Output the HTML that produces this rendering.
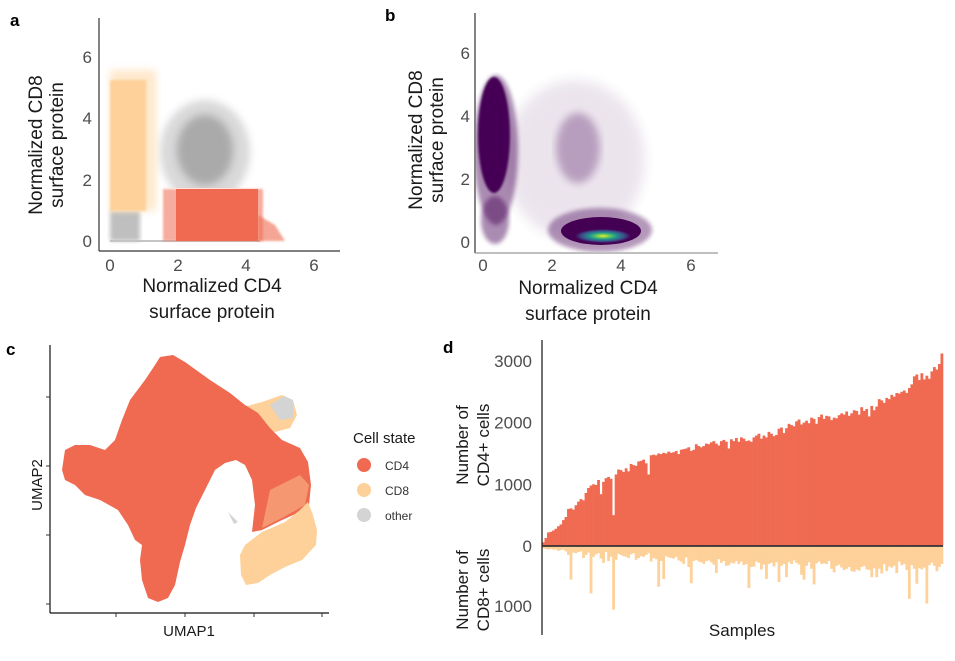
<!DOCTYPE html>
<html><head><meta charset="utf-8">
<style>
body{margin:0;background:#fff;width:955px;height:661px;overflow:hidden;font-family:"Liberation Sans",Arial,sans-serif}
svg{position:absolute;left:0;top:0}
.tk{font-size:17px;fill:#4d4d4d}
.ti{font-size:19px;fill:#1a1a1a}
.pl{font-size:17px;font-weight:bold;fill:#000}
</style></head><body>
<svg width="955" height="661" viewBox="0 0 955 661">
<defs>
<filter id="b1"><feGaussianBlur stdDeviation="1"/></filter>
<filter id="b2"><feGaussianBlur stdDeviation="2"/></filter>
<filter id="b4"><feGaussianBlur stdDeviation="4"/></filter>
<filter id="b6"><feGaussianBlur stdDeviation="6"/></filter>
<radialGradient id="vir" cx="0.5" cy="0.5" r="0.5">
<stop offset="0" stop-color="#fde725"/><stop offset="0.25" stop-color="#5ec962"/><stop offset="0.5" stop-color="#21918c"/><stop offset="0.75" stop-color="#3b528b"/><stop offset="1" stop-color="#440154"/>
</radialGradient>
<clipPath id="clipA"><rect x="100" y="18" width="240" height="232"/></clipPath>
<clipPath id="clipGray"><rect x="100" y="18" width="240" height="170"/></clipPath>
<clipPath id="clipB"><rect x="476" y="13" width="240" height="239"/></clipPath>
</defs>

<!-- Panel a -->
<g>
<text class="pl" x="10" y="26">a</text>
<g clip-path="url(#clipA)">
<rect x="110" y="211" width="30" height="30" fill="#aaa" opacity="0.75" filter="url(#b2)"/>
<rect x="110" y="240" width="150" height="2" fill="#c4c4c4"/>
<g clip-path="url(#clipGray)">
<ellipse cx="205" cy="152" rx="45" ry="52" fill="#aaa" opacity="0.45" filter="url(#b4)"/>
<ellipse cx="205" cy="150" rx="28" ry="35" fill="#a6a6a6" opacity="0.9" filter="url(#b4)"/>
</g>
<rect x="110" y="70" width="46" height="141" fill="#fdd199" opacity="0.5" filter="url(#b4)"/>
<rect x="110" y="80" width="36" height="131" fill="#fdd199" filter="url(#b1)"/>
<rect x="163" y="189" width="100" height="52" fill="#ef6a50" opacity="0.55" filter="url(#b1)"/>
<rect x="176" y="189" width="82" height="52" fill="#ef6a50"/>
<path d="M258 215 L275 225 L285 241 L258 241 Z" fill="#ef6a50" opacity="0.6" filter="url(#b1)"/>
</g>
<line x1="99" y1="18" x2="99" y2="251" stroke="#333" stroke-width="1.2"/>
<line x1="99" y1="251" x2="340" y2="251" stroke="#333" stroke-width="1.2"/>
<g>
<text class="tk" x="110" y="271" text-anchor="middle">0</text><text class="tk" x="178" y="271" text-anchor="middle">2</text>
<text class="tk" x="246" y="271" text-anchor="middle">4</text><text class="tk" x="314" y="271" text-anchor="middle">6</text>
</g>
<g>
<text class="tk" x="92" y="247" text-anchor="end">0</text><text class="tk" x="92" y="186" text-anchor="end">2</text>
<text class="tk" x="92" y="124" text-anchor="end">4</text><text class="tk" x="92" y="63" text-anchor="end">6</text>
</g>
<text class="ti" x="212" y="292" text-anchor="middle">Normalized CD4</text>
<text class="ti" x="212" y="318" text-anchor="middle">surface protein</text>
<g transform="translate(42,145) rotate(-90)">
<text class="ti" x="0" y="0" text-anchor="middle">Normalized CD8</text>
<text class="ti" x="0" y="21" text-anchor="middle">surface protein</text></g>
</g>

<!-- Panel b -->
<g>
<text class="pl" x="385" y="21">b</text>
<g clip-path="url(#clipB)">
<ellipse cx="575" cy="160" rx="70" ry="80" fill="#440154" opacity="0.1" filter="url(#b6)"/>
<ellipse cx="578" cy="148" rx="22" ry="35" fill="#440154" opacity="0.3" filter="url(#b4)"/>
<ellipse cx="495" cy="220" rx="14" ry="24" fill="#440154" opacity="0.45" filter="url(#b2)"/>
<ellipse cx="496" cy="150" rx="22" ry="75" fill="#440154" opacity="0.45" filter="url(#b2)"/>
<ellipse cx="494" cy="135" rx="16" ry="58" fill="#440154" filter="url(#b1)"/>
<ellipse cx="600" cy="230" rx="52" ry="22" fill="#440154" opacity="0.4" filter="url(#b2)"/>
<ellipse cx="601" cy="231" rx="40" ry="14" fill="#440154"/>
<ellipse cx="603" cy="236" rx="28" ry="7" fill="url(#vir)"/>
</g>
<line x1="475" y1="13" x2="475" y2="253" stroke="#333" stroke-width="1.2"/>
<line x1="475" y1="253" x2="718" y2="253" stroke="#999" stroke-width="1.2"/>
<g>
<text class="tk" x="483" y="271" text-anchor="middle">0</text><text class="tk" x="552" y="271" text-anchor="middle">2</text>
<text class="tk" x="621" y="271" text-anchor="middle">4</text><text class="tk" x="691" y="271" text-anchor="middle">6</text>
</g>
<g>
<text class="tk" x="470" y="248" text-anchor="end">0</text><text class="tk" x="470" y="185" text-anchor="end">2</text>
<text class="tk" x="470" y="122" text-anchor="end">4</text><text class="tk" x="470" y="59" text-anchor="end">6</text>
</g>
<text class="ti" x="588" y="294" text-anchor="middle">Normalized CD4</text>
<text class="ti" x="588" y="320" text-anchor="middle">surface protein</text>
<g transform="translate(422,140) rotate(-90)">
<text class="ti" x="0" y="0" text-anchor="middle">Normalized CD8</text>
<text class="ti" x="0" y="21" text-anchor="middle">surface protein</text></g>
</g>

<!-- Panel c -->
<g>
<text class="pl" x="6" y="355">c</text>
<g>
<path d="M240 408 L262 402 L282 395 L293 400 L297 415 L290 428 L275 432 L255 422 Z" fill="#fdd199"/>
<path d="M270 405 L284 396 L293 400 L293 418 L280 420 Z" fill="#d4d4d4"/>
<path d="M160 357 L173 355 L185 362 L210 380 L230 393 L245 405 L258 413 L270 428 L282 440 L300 448 L308 462 L311 485 L309 505 L300 512 L282 520 L262 530 L252 532 L255 505 L252 480 L245 465 L236 460 L225 463 L215 470 L205 490 L196 508 L190 525 L185 545 L180 562 L175 585 L168 598 L158 602 L148 598 L142 580 L140 560 L142 545 L135 540 L128 525 L118 510 L100 500 L85 495 L75 485 L65 480 L62 470 L65 450 L75 445 L90 445 L105 450 L115 440 L122 420 L130 400 L145 380 L155 365 Z" fill="#ef6a50"/>
<path d="M245 545 L262 532 L285 522 L300 510 L308 502 L313 515 L317 530 L316 545 L302 560 L285 567 L270 575 L258 583 L246 585 L241 575 L240 555 Z" fill="#fdd199"/>
<path d="M270 490 L300 475 L309 485 L305 505 L282 518 L262 528 Z" fill="#fdd199" opacity="0.45"/>
<path d="M228 512 L238 522 L234 524 Z" fill="#d4d4d4"/>
</g>
<line x1="50" y1="345" x2="50" y2="613" stroke="#111" stroke-width="1.2"/>
<line x1="50" y1="613" x2="329" y2="613" stroke="#111" stroke-width="1.2"/>
<g stroke="#333">
<line x1="116" y1="613" x2="116" y2="617"/><line x1="185" y1="613" x2="185" y2="617"/><line x1="254" y1="613" x2="254" y2="617"/><line x1="322" y1="613" x2="322" y2="617"/>
<line x1="46" y1="397" x2="50" y2="397"/><line x1="46" y1="466" x2="50" y2="466"/><line x1="46" y1="535" x2="50" y2="535"/><line x1="46" y1="604" x2="50" y2="604"/>
</g>
<text x="189" y="636" text-anchor="middle" style="font-size:15px;fill:#1a1a1a">UMAP1</text>
<text transform="translate(42,485) rotate(-90)" text-anchor="middle" style="font-size:15px;fill:#1a1a1a">UMAP2</text>
<g>
<text x="353" y="443" style="font-size:15px;fill:#1a1a1a">Cell state</text>
<g><circle cx="364" cy="465" r="7" fill="#ef6a50"/><text x="385" y="470" style="font-size:12px;fill:#333">CD4</text></g>
<g><circle cx="364" cy="490" r="7" fill="#fdd199"/><text x="385" y="495" style="font-size:12px;fill:#333">CD8</text></g>
<g><circle cx="364" cy="515" r="7" fill="#d4d4d4"/><text x="385" y="520" style="font-size:12px;fill:#333">other</text></g>
</g>
</g>

<!-- Panel d -->
<g>
<text class="pl" x="443" y="353">d</text>
<g id="bars"></g>
<line x1="542" y1="340" x2="542" y2="635" stroke="#111" stroke-width="1.2"/>
<line x1="542" y1="546" x2="943" y2="546" stroke="#333" stroke-width="1.8"/>
<g id="yticks"></g>
<g transform="translate(468,445) rotate(-90)">
<text x="0" y="0" text-anchor="middle" style="font-size:17px;fill:#1a1a1a">Number of</text>
<text x="0" y="21" text-anchor="middle" style="font-size:17px;fill:#1a1a1a">CD4+ cells</text></g>
<g transform="translate(468,590) rotate(-90)">
<text x="0" y="0" text-anchor="middle" style="font-size:17px;fill:#1a1a1a">Number of</text>
<text x="0" y="21" text-anchor="middle" style="font-size:17px;fill:#1a1a1a">CD8+ cells</text></g>
<text x="742" y="636" text-anchor="middle" style="font-size:17px;fill:#1a1a1a">Samples</text>
</g>
</svg>
<script>
const cd4Counts=[60,130,220,230,250,280,320,350,420,470,600,610,590,660,720,760,740,860,940,980,
1000,990,1070,840,1040,1100,1120,1090,500,1160,1240,1230,1200,1260,1210,1330,1310,1300,1370,1380,
1400,1340,1160,1470,1480,1470,1500,1490,1510,1500,1530,1510,1520,1540,1490,1560,1570,1580,1600,1540,
1560,1650,1620,1600,1620,1660,1650,1680,1700,1660,1630,1700,1720,1690,1580,1730,1700,1750,1690,1760,
1740,1700,1710,1690,1760,1790,1820,1740,1790,1760,1850,1820,1780,1800,1900,1920,1830,1910,1980,1960,
1940,2020,2050,1970,2000,2030,1990,2080,2060,1980,2090,2130,2060,2110,2100,2040,2080,2070,2120,2150,
2130,2180,2110,2150,2200,2190,2130,2250,2190,2220,2100,2270,2200,2260,2380,2360,2320,2400,2380,2450,
2420,2480,2470,2500,2520,2480,2560,2620,2750,2780,2690,2800,2700,2760,2710,2830,2900,2860,2950,3120];
const cd8Counts=[40,50,60,50,60,60,80,70,60,90,150,560,110,120,100,90,200,150,110,790,
180,140,120,210,280,100,250,180,1060,230,130,150,170,180,200,140,120,230,200,170,
180,150,120,260,200,220,680,250,550,170,190,200,210,180,240,260,300,190,350,620,
250,230,260,270,300,250,240,270,310,450,220,280,250,330,320,280,290,250,300,260,
320,300,700,350,340,260,280,390,310,550,300,280,340,270,600,330,300,520,270,300,
240,280,310,480,560,330,270,380,640,290,260,300,290,300,250,380,440,330,310,360,
400,380,350,420,430,390,410,350,330,390,400,520,370,520,380,460,300,420,340,360,
330,450,260,320,300,400,880,320,380,630,370,390,360,960,320,280,330,420,350,300];
const upTicks=[0,1000,2000,3000];
const downTicks=[1000];
const NS='http://www.w3.org/2000/svg';
const x0=542,x1=943,zeroY=546;
function xPos(i){return x0+(x1-x0)*i/cd4Counts.length;}
function yUp(v){return zeroY-v*0.0617;}
function yDown(v){return zeroY+v*0.06;}
const bw=(x1-x0)/cd4Counts.length;
const g=document.getElementById('bars');
cd4Counts.forEach((v,i)=>{
  const r=document.createElementNS(NS,'rect');
  r.setAttribute('x',xPos(i));r.setAttribute('width',bw+0.3);
  r.setAttribute('y',yUp(v));r.setAttribute('height',zeroY-yUp(v));
  r.setAttribute('fill','#ef6a50');
  
  
  g.appendChild(r);
});
cd8Counts.forEach((v,i)=>{
  const r=document.createElementNS(NS,'rect');
  r.setAttribute('x',xPos(i));r.setAttribute('width',bw+0.3);
  r.setAttribute('y',zeroY);r.setAttribute('height',yDown(v)-zeroY);
  r.setAttribute('fill','#fdd199');
  
  
  g.appendChild(r);
});
const yt=document.getElementById('yticks');
upTicks.forEach(v=>{
  const t=document.createElementNS(NS,'text');
  t.setAttribute('x',532);t.setAttribute('y',yUp(v)+6);t.setAttribute('text-anchor','end');
  t.setAttribute('class','tk');t.textContent=v;
  
  
  yt.appendChild(t);
});
downTicks.forEach(v=>{
  const t=document.createElementNS(NS,'text');
  t.setAttribute('x',532);t.setAttribute('y',yDown(v)+6);t.setAttribute('text-anchor','end');
  t.setAttribute('class','tk');t.textContent=v;
  
  
  yt.appendChild(t);
});
</script>
</body></html>
